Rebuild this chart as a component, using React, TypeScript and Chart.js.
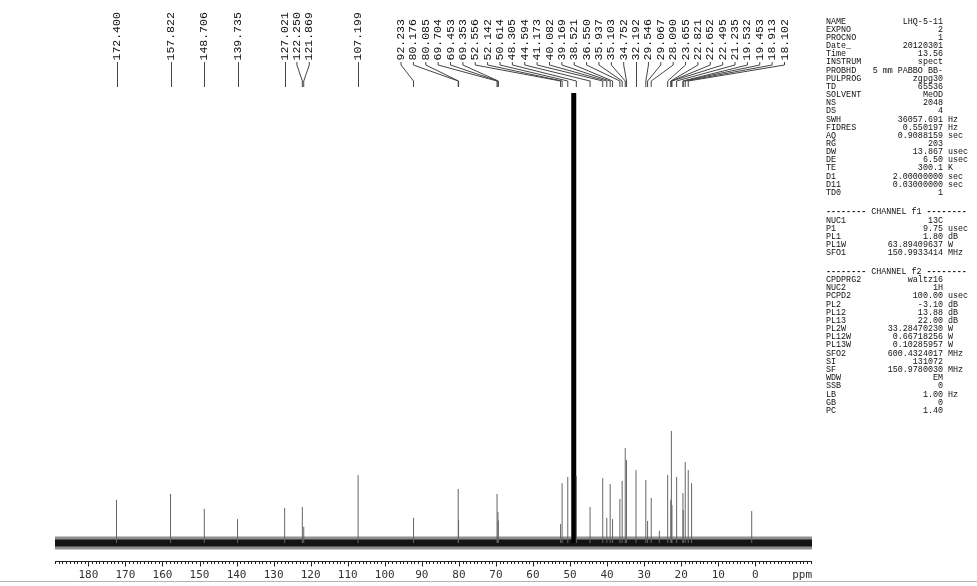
import React, { useEffect, useRef } from "react";
import { Chart, registerables } from "chart.js";

Chart.register(...registerables);

// ---------- data ----------
const xMax = 189.0; // ppm at left edge of axis
const xMin = -15.3; // ppm at right edge of axis
const majorTicks = [180, 170, 160, 150, 140, 130, 120, 110, 100, 90, 80, 70, 60, 50, 40, 30, 20, 10, 0];

const peakPpm = [
  172.4, 157.822, 148.706, 139.735, 127.021, 122.25, 121.869, 107.199,
  92.233, 80.176, 80.085, 69.704, 69.453, 69.353, 52.556, 52.142, 50.614,
  48.305, 44.594, 41.173, 40.082, 39.169, 38.521, 36.55, 35.937, 35.103,
  34.752, 32.192, 29.546, 29.067, 28.09, 23.655, 22.821, 22.652, 22.495,
  21.235, 19.532, 19.453, 18.913, 18.102,
];
const peakHeight = [
  9.6, 10.9, 7.6, 5.3, 7.8, 8.0, 3.6, 15.1,
  5.6, 12.0, 5.1, 10.9, 6.9, 5.0, 4.2, 13.3, 14.7,
  14.9, 8.0, 14.4, 5.6, 13.1, 5.3, 9.8, 13.8, 21.1,
  18.4, 16.2, 14.0, 4.9, 10.0, 15.1, 9.6, 24.9, 8.4,
  14.7, 11.1, 7.3, 18.0, 16.2,
];
// small unlabeled signals
const extraPeakPpm = [25.9, 17.2, 0.97];
const extraPeakHeight = [2.7, 13.3, 7.1];
// solvent (MeOD) signal, clipped at the top
const solventPpm = [49.0];
const solventHeight = [120];

// acquisition / processing parameters
const acqNames = ["NAME", "EXPNO", "PROCNO", "Date_", "Time", "INSTRUM", "PROBHD", "PULPROG", "TD", "SOLVENT", "NS", "DS", "SWH", "FIDRES", "AQ", "RG", "DW", "DE", "TE", "D1", "D11", "TD0"];
const acqValues = ["LHQ-5-11", "2", "1", "20120301", "13.56", "spect", "5 mm PABBO BB-", "zgpg30", "65536", "MeOD", "2048", "4", "36057.691", "0.550197", "0.9088159", "203", "13.867", "6.50", "300.1", "2.00000000", "0.03000000", "1"];
const acqUnits = ["", "", "", "", "", "", "", "", "", "", "", "", "Hz", "Hz", "sec", "", "usec", "usec", "K", "sec", "sec", ""];

const f1Names = ["NUC1", "P1", "PL1", "PL1W", "SFO1"];
const f1Values = ["13C", "9.75", "1.80", "63.89409637", "150.9933414"];
const f1Units = ["", "usec", "dB", "W", "MHz"];

const f2Names = ["CPDPRG2", "NUC2", "PCPD2", "PL2", "PL12", "PL13", "PL2W", "PL12W", "PL13W", "SFO2", "SI", "SF", "WDW", "SSB", "LB", "GB", "PC"];
const f2Values = ["waltz16", "1H", "100.00", "-3.10", "13.88", "22.00", "33.28470230", "0.66718256", "0.10285957", "600.4324017", "131072", "150.9780030", "EM", "0", "1.00", "0", "1.40"];
const f2Units = ["", "", "usec", "dB", "dB", "dB", "W", "W", "W", "MHz", "", "MHz", "", "", "Hz", "", ""];

// ---------- layout helpers ----------
const W = 977;
const H = 586;
const LABEL_SPACING = 12.37;
const monoFont = '"Liberation Mono", "DejaVu Sans Mono", monospace';

function layoutLabels(xs: number[], spacing: number, minX: number, maxX: number): number[] {
  const order = xs.map((_, i) => i).sort((a, b) => xs[a] - xs[b]);
  type Cl = { idx: number[]; center: number };
  const half = (c: Cl) => ((c.idx.length - 1) * spacing) / 2;
  const fixCenter = (idx: number[]) => {
    const mean = idx.reduce((s, i) => s + xs[i], 0) / idx.length;
    const h = ((idx.length - 1) * spacing) / 2;
    return Math.min(Math.max(mean, minX + h), maxX - h);
  };
  let clusters: Cl[] = order.map((i) => ({ idx: [i], center: fixCenter([i]) }));
  let merged = true;
  while (merged) {
    merged = false;
    for (let k = 0; k < clusters.length - 1; k++) {
      const a = clusters[k];
      const b = clusters[k + 1];
      if (a.center + half(a) + spacing > b.center - half(b) + 0.01) {
        const idx = a.idx.concat(b.idx);
        clusters.splice(k, 2, { idx, center: fixCenter(idx) });
        merged = true;
        break;
      }
    }
  }
  const out = new Array(xs.length).fill(0);
  clusters.forEach((c) => {
    const start = c.center - half(c);
    c.idx.forEach((i, j) => {
      out[i] = start + j * spacing;
    });
  });
  return out;
}

function ParamRow(props: { y: number; name: string; value: string; unit: string }) {
  const base: React.CSSProperties = {
    position: "absolute",
    top: props.y - 5,
    height: 10,
    lineHeight: "10px",
    fontFamily: monoFont,
    fontSize: "8.4px",
    color: "#111",
    whiteSpace: "pre",
  };
  return (
    <>
      <div style={{ ...base, left: 826 }}>{props.name}</div>
      <div style={{ ...base, right: W - 943, textAlign: "right" }}>{props.value}</div>
      {props.unit ? <div style={{ ...base, left: 948 }}>{props.unit}</div> : null}
    </>
  );
}

function Header(props: { y: number; text: string }) {
  return (
    <div
      style={{
        position: "absolute",
        top: props.y - 5,
        left: 826,
        height: 10,
        lineHeight: "10px",
        fontFamily: monoFont,
        fontSize: "8.4px",
        color: "#111",
        whiteSpace: "pre",
      }}
    >
      <span style={{ fontWeight: "bold" }}>--------</span>
      {" " + props.text + " "}
      <span style={{ fontWeight: "bold" }}>--------</span>
    </div>
  );
}

export default function App() {
  const ref = useRef<HTMLCanvasElement>(null);

  useEffect(() => {
    const canvas = ref.current;
    if (!canvas) return;

    const peakData: any[] = [];
    peakPpm.forEach((p, i) => {
      peakData.push({ x: p, y: 0 }, { x: p, y: peakHeight[i] }, { x: p, y: null });
    });
    extraPeakPpm.forEach((p, i) => {
      peakData.push({ x: p, y: 0 }, { x: p, y: extraPeakHeight[i] }, { x: p, y: null });
    });
    const solventData: any[] = [];
    solventPpm.forEach((p, i) => {
      solventData.push({ x: p, y: 0 }, { x: p, y: solventHeight[i] }, { x: p, y: null });
    });
    const baselineData = [
      { x: xMax, y: 0 },
      { x: xMin, y: 0 },
    ];

    const tickFont = '11px "DejaVu Sans Mono", monospace';

    const labelPlugin = {
      id: "peakLabels",
      afterDraw(chart: any) {
        const xs = chart.scales.x;
        const area = chart.chartArea;
        const ctx: CanvasRenderingContext2D = chart.ctx;
        const pxs = peakPpm.map((p) => xs.getPixelForValue(p));
        const lxs = layoutLabels(pxs, LABEL_SPACING, area.left, area.right - 27.5);
        ctx.save();
        // leader lines
        ctx.strokeStyle = "#444";
        ctx.lineWidth = 1;
        pxs.forEach((px, i) => {
          const lx = lxs[i];
          ctx.beginPath();
          if (Math.abs(lx - px) < 0.6) {
            const x = Math.round(px) + 0.5;
            ctx.moveTo(x, 62);
            ctx.lineTo(x, 87);
          } else {
            ctx.moveTo(lx, 62);
            ctx.lineTo(lx, 65);
            ctx.lineTo(px, 81);
            ctx.lineTo(px, 87);
          }
          ctx.stroke();
        });
        // rotated labels
        ctx.fillStyle = "#111";
        ctx.font = '11.5px "Liberation Mono", monospace';
        ctx.textAlign = "left";
        ctx.textBaseline = "middle";
        peakPpm.forEach((p, i) => {
          ctx.save();
          ctx.translate(lxs[i], 60.5);
          ctx.rotate(-Math.PI / 2);
          ctx.fillText(p.toFixed(3), 0, 0);
          ctx.restore();
        });
        // axis: line, minor ticks (1 ppm), major ticks (10 ppm) and labels
        const bottom = Math.round(area.bottom) + 0.5;
        ctx.strokeStyle = "#222";
        ctx.beginPath();
        ctx.moveTo(area.left, bottom);
        ctx.lineTo(area.right, bottom);
        for (let v = Math.ceil(xMin); v <= Math.floor(xMax); v++) {
          const x = Math.round(xs.getPixelForValue(v)) + 0.5;
          const major = majorTicks.indexOf(v) >= 0;
          ctx.moveTo(x, bottom);
          ctx.lineTo(x, bottom + (major ? 5 : 2.5));
        }
        ctx.stroke();
        ctx.font = tickFont;
        ctx.fillStyle = "#333";
        ctx.textAlign = "center";
        ctx.textBaseline = "middle";
        majorTicks.forEach((v) => {
          ctx.fillText(String(v), xs.getPixelForValue(v), bottom + 14);
        });
        ctx.textAlign = "right";
        ctx.fillText("ppm", area.right, bottom + 14);
        ctx.restore();
      },
    };

    const chart = new Chart(canvas, {
      type: "scatter",
      data: {
        datasets: [
          {
            data: peakData,
            showLine: true,
            borderColor: "#666",
            borderWidth: 1,
            pointRadius: 0,
            spanGaps: false,
          },
          {
            data: solventData,
            showLine: true,
            borderColor: "#000",
            borderWidth: 5,
            pointRadius: 0,
            clip: 0,
          },
          {
            data: baselineData,
            showLine: true,
            borderColor: "#141414",
            borderWidth: 7,
            pointRadius: 0,
            clip: 0,
          },
          {
            data: baselineData,
            showLine: true,
            borderColor: "#8f8f8f",
            borderWidth: 13,
            pointRadius: 0,
            clip: 0,
          },
        ],
      } as any,
      options: {
        animation: false,
        responsive: false,
        events: [],
        layout: { padding: { left: 55, right: W - 812, top: 93, bottom: H - 561 } },
        plugins: {
          legend: { display: false },
          tooltip: { enabled: false },
        },
        scales: {
          x: {
            type: "linear",
            reverse: true,
            min: xMin,
            max: xMax,
            ticks: { display: false, stepSize: 10 },
            grid: { display: false, drawOnChartArea: false, drawTicks: false },
            border: { display: false },
          },
          y: { display: false, min: -4, max: 100 },
        },
      } as any,
      plugins: [labelPlugin],
    });
    return () => chart.destroy();
  }, []);

  const acqY = (i: number) => 21.7 + i * 8.15;
  const f1Y = (i: number) => 220.5 + i * 8.15;
  const f2Y = (i: number) => 280 + i * 8.18;

  return (
    <div
      style={{
        position: "fixed",
        left: 0,
        top: 0,
        width: W,
        height: H,
        background: "#fff",
        overflow: "hidden",
      }}
    >
      <canvas ref={ref} width={W} height={H} style={{ position: "absolute", left: 0, top: 0, width: W, height: H }} />
      {acqNames.map((n, i) => (
        <ParamRow key={"a" + i} y={acqY(i)} name={n} value={acqValues[i]} unit={acqUnits[i]} />
      ))}
      <Header y={212} text="CHANNEL f1" />
      {f1Names.map((n, i) => (
        <ParamRow key={"b" + i} y={f1Y(i)} name={n} value={f1Values[i]} unit={f1Units[i]} />
      ))}
      <Header y={271.5} text="CHANNEL f2" />
      {f2Names.map((n, i) => (
        <ParamRow key={"c" + i} y={f2Y(i)} name={n} value={f2Values[i]} unit={f2Units[i]} />
      ))}
      <div style={{ position: "absolute", left: 0, top: 581, width: W, height: 1, background: "#b4b4b4" }} />
    </div>
  );
}
